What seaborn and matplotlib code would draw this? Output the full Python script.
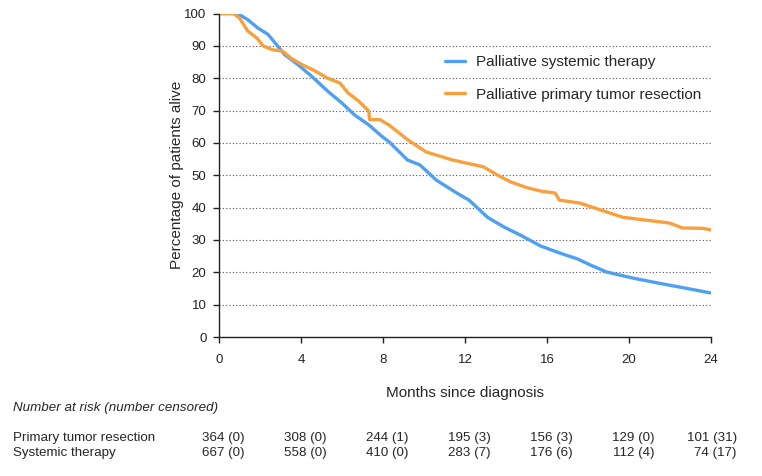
import pandas as pd
import matplotlib
matplotlib.use('Agg')
import matplotlib.pyplot as plt
import seaborn as sns

# Kaplan-Meier curves (months, % alive)
systemic_t = [0, 0.9, 1.4, 1.9, 2.4, 2.8, 3.2, 3.85, 4.5, 5.3, 6.0, 6.6, 7.3, 7.95, 8.3,
              9.2, 9.8, 10.6, 11.6, 12.2, 13.1, 13.9, 14.7, 15.7, 16.6, 17.5, 18.1, 18.9,
              20.2, 21.4, 22.5, 24]
systemic_s = [100, 100, 98.1, 95.5, 93.5, 90.4, 87.3, 84.2, 80.7, 76, 72.3, 68.7, 65.6, 62, 60.3,
              54.7, 53.2, 48.5, 44.5, 42.3, 37, 34, 31.5, 28.1, 26, 24.1, 22.3, 20.1,
              18.2, 16.7, 15.4, 13.6]

resection_t = [0, 0.7, 1.0, 1.4, 1.85, 2.15, 2.6, 3.1, 3.5, 4.05, 4.7, 5.3, 5.9, 6.3, 6.8,
               7.3, 7.35, 7.85, 8.3, 9.2, 10.1, 11.4, 12.9, 13.6, 14.2, 15.0, 15.7, 16.4,
               16.6, 17.6, 18.6, 19.7, 21, 22, 22.6, 23.6, 24]
resection_s = [100, 100, 98.6, 94.6, 92.4, 90, 88.8, 88.4, 86.2, 84.2, 82.2, 80, 78.5, 75.4, 73,
               69.9, 67.2, 67.2, 65.5, 61, 57.2, 54.7, 52.6, 50, 48, 46.2, 45.1, 44.5,
               42.3, 41.4, 39.3, 37, 36, 35.2, 33.7, 33.6, 33.1]

# number at risk table
risk_times = [0, 4, 8, 12, 16, 20, 24]
resection_risk = [364, 308, 244, 195, 156, 129, 101]
resection_cens = [0, 0, 1, 3, 3, 0, 31]
systemic_risk = [667, 558, 410, 283, 176, 112, 74]
systemic_cens = [0, 0, 0, 7, 6, 4, 17]

lab_sys = 'Palliative systemic therapy'
lab_res = 'Palliative primary tumor resection'

df = pd.concat([
    pd.DataFrame({'month': systemic_t, 'surv': systemic_s, 'group': lab_sys}),
    pd.DataFrame({'month': resection_t, 'surv': resection_s, 'group': lab_res}),
])

sns.set_style('white')
plt.rcParams['font.family'] = ['Liberation Sans', 'DejaVu Sans']

fig = plt.figure(figsize=(7.62, 4.76), dpi=100)
ax = fig.add_axes([219 / 762, 1 - 337 / 476, 492 / 762, 323.5 / 476])

# dotted gridlines (no line at 100)
for v in range(10, 100, 10):
    ax.axhline(v, color='#555555', linestyle=(0, (1, 2)), linewidth=0.8, zorder=0)

sns.lineplot(data=df, x='month', y='surv', hue='group', estimator=None, sort=False,
             palette={lab_sys: '#4fa0f2', lab_res: '#f8a03e'}, linewidth=2.4, ax=ax)

ax.set_xlim(0, 24)
ax.set_ylim(0, 100)
ax.set_xticks(risk_times)
ax.set_yticks(range(0, 101, 10))
for s in ['top', 'right']:
    ax.spines[s].set_visible(False)
for s in ['left', 'bottom']:
    ax.spines[s].set_color('#222222')
    ax.spines[s].set_linewidth(1.0)
ax.tick_params(direction='out', length=4, width=1, color='#222222', labelsize=9.5,
               labelcolor='#222222', left=True, bottom=True, pad=5)
ax.tick_params(axis='x', pad=8)

ax.set_xlabel('Months since diagnosis', fontsize=11)
ax.xaxis.set_label_coords(0.5, -0.15)
ax.set_ylabel('Percentage of patients alive', fontsize=11)
ax.yaxis.set_label_coords(-0.072, 0.5)

ax.legend(title=None, frameon=False, fontsize=11, loc='center left',
          bbox_to_anchor=(445 / 762, 1 - 78.5 / 476), bbox_transform=fig.transFigure,
          borderaxespad=0, borderpad=0, handlelength=1.3, handletextpad=0.75,
          labelspacing=1.2)

# risk table under the plot
fig.text(13 / 762, 1 - 408 / 476, 'Number at risk (number censored)', fontsize=9.6,
         style='italic', va='center')
rows = [('Primary tumor resection', resection_risk, resection_cens, 438),
        ('Systemic therapy', systemic_risk, systemic_cens, 453)]
for name, risk, cens, ypx in rows:
    yf = 1 - ypx / 476
    fig.text(13 / 762, yf, name, fontsize=9.6, va='center')
    for t, n, c in zip(risk_times, risk, cens):
        xpx = 219 + t * 492 / 24 + 26
        fig.text(xpx / 762, yf, f'{n} ({c})', fontsize=9.6, va='center', ha='right')

fig.savefig('out.png', dpi=100)
